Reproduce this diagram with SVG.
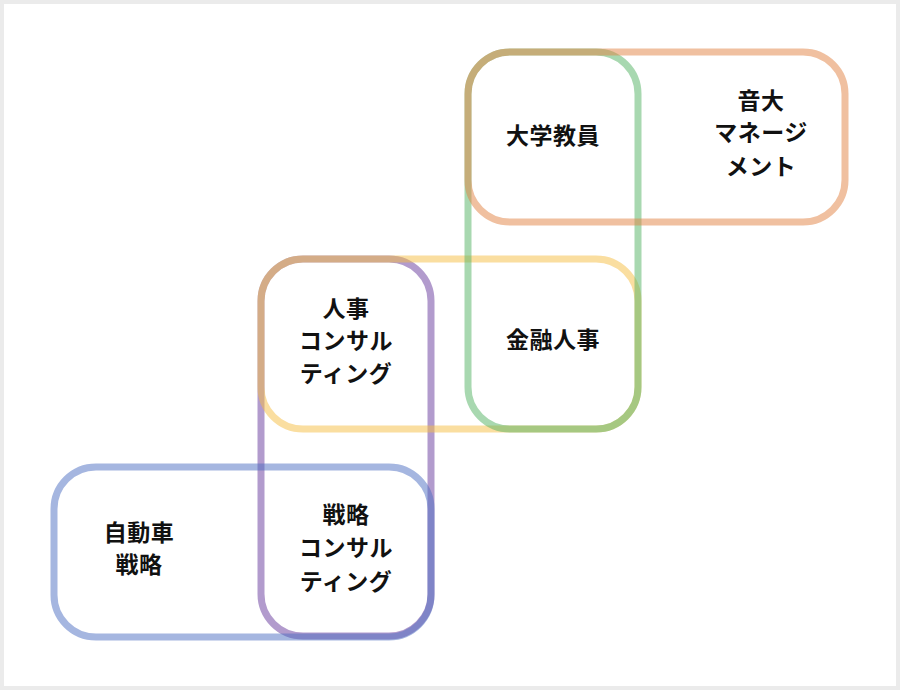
<svg xmlns="http://www.w3.org/2000/svg" width="900" height="690" viewBox="0 0 900 690">
<style>
.box{fill:none;stroke-width:7;stroke-opacity:0.5}
.t{font-family:"Noto Sans CJK JP","Noto Sans",sans-serif;font-size:23px;font-weight:bold;fill:#111;text-anchor:middle;letter-spacing:0.5px}
</style>
<rect x="0" y="0" width="900" height="690" fill="#ebebeb"/>
<rect x="4" y="4" width="892" height="682" fill="#ffffff"/>
<g id="connectors"></g>
<g id="purple"><rect class="box" x="261" y="259" width="170" height="377" rx="42" stroke="#65379b"/></g>
<g id="blue"><rect class="box" x="54" y="467" width="377" height="170" rx="42" stroke="#4b6dc1"/></g>
<g id="yellow"><rect class="box" x="261" y="259" width="377" height="170" rx="42" stroke="#f5bd41"/></g>
<g id="green"><rect class="box" x="468" y="52" width="170" height="377" rx="42" stroke="#51b161"/></g>
<g id="orange"><rect class="box" x="468" y="52" width="377" height="170" rx="42" stroke="#e18141"/></g>
<g id="n-daigaku"><text class="t" x="553" y="144">大学教員</text></g>
<g id="n-ondai"><text class="t" x="761" y="109">音大</text><text class="t" x="761" y="141">マネージ</text><text class="t" x="761" y="175">メント</text></g>
<g id="n-kinyu"><text class="t" x="553" y="348">金融人事</text></g>
<g id="n-jinji"><text class="t" x="346" y="317">人事</text><text class="t" x="346" y="349">コンサル</text><text class="t" x="346" y="382">ティング</text></g>
<g id="n-jidosha"><text class="t" x="139" y="541">自動車</text><text class="t" x="139" y="573">戦略</text></g>
<g id="n-senryaku"><text class="t" x="346" y="523">戦略</text><text class="t" x="346" y="556">コンサル</text><text class="t" x="346" y="590">ティング</text></g>
</svg>
